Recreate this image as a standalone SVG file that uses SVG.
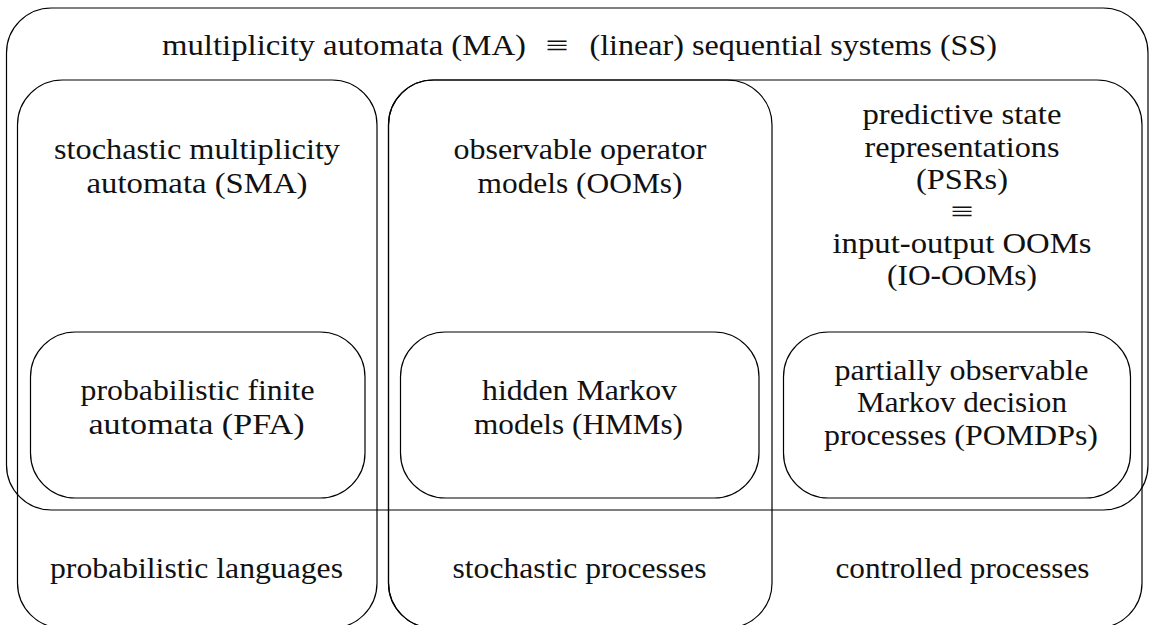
<svg xmlns="http://www.w3.org/2000/svg" width="1149" height="625" viewBox="0 0 1149 625" font-family="Liberation Serif, DejaVu Serif, serif">
  <style>
    .box { fill: none; stroke: #000; stroke-width: 1.2; }
    .lbl { font-family: 'Liberation Serif', 'DejaVu Serif', serif; font-size: 29px; fill: #111; text-anchor: middle; }
  </style>
  <rect width="1149" height="625" fill="#fff"/>

  <!-- column: probabilistic languages -->
  <g id="languages">
    <rect class="box" x="17.5" y="80" width="359.5" height="548" rx="45" ry="45"/>
    <text class="lbl" x="197" y="159" textLength="286" lengthAdjust="spacingAndGlyphs">stochastic multiplicity</text>
    <text class="lbl" x="197" y="192.5" textLength="221" lengthAdjust="spacingAndGlyphs">automata (SMA)</text>
    <text class="lbl" x="196.5" y="578" textLength="293" lengthAdjust="spacingAndGlyphs">probabilistic languages</text>
  </g>

  <!-- column: stochastic processes -->
  <g id="stochastic">
    <rect class="box" x="388.5" y="80" width="383.5" height="548" rx="45" ry="45"/>
    <text class="lbl" x="580" y="159" textLength="253" lengthAdjust="spacingAndGlyphs">observable operator</text>
    <text class="lbl" x="580" y="192.5" textLength="205" lengthAdjust="spacingAndGlyphs">models (OOMs)</text>
    <text class="lbl" x="579.5" y="578" textLength="254" lengthAdjust="spacingAndGlyphs">stochastic processes</text>
  </g>

  <!-- column: controlled processes (encloses stochastic processes) -->
  <g id="controlled">
    <rect class="box" x="388.5" y="80" width="753.5" height="548" rx="45" ry="45"/>
    <text class="lbl" x="962" y="124" textLength="199" lengthAdjust="spacingAndGlyphs">predictive state</text>
    <text class="lbl" x="962" y="156.5" textLength="195" lengthAdjust="spacingAndGlyphs">representations</text>
    <text class="lbl" x="962" y="188.5" textLength="92" lengthAdjust="spacingAndGlyphs">(PSRs)</text>
    <text class="lbl" x="962" y="220.5" textLength="23" lengthAdjust="spacingAndGlyphs">≡</text>
    <text class="lbl" x="962" y="252.5" textLength="259" lengthAdjust="spacingAndGlyphs">input-output OOMs</text>
    <text class="lbl" x="962" y="284.5" textLength="150" lengthAdjust="spacingAndGlyphs">(IO-OOMs)</text>
    <text class="lbl" x="962.5" y="578" textLength="254" lengthAdjust="spacingAndGlyphs">controlled processes</text>
  </g>

  <!-- multiplicity automata / sequential systems -->
  <g id="ma">
    <rect class="box" x="6.5" y="8" width="1141.5" height="502" rx="45" ry="45"/>
    <text class="lbl" x="162" y="55" style="text-anchor:start" textLength="364" lengthAdjust="spacingAndGlyphs">multiplicity automata (MA)</text>
    <text class="lbl" x="557" y="55" textLength="23" lengthAdjust="spacingAndGlyphs">≡</text>
    <text class="lbl" x="589.5" y="55" style="text-anchor:start" textLength="407.5" lengthAdjust="spacingAndGlyphs">(linear) sequential systems (SS)</text>
  </g>

  <g id="pfa">
    <rect class="box" x="30.5" y="332" width="334.5" height="166" rx="45" ry="45"/>
    <text class="lbl" x="197.5" y="400" textLength="234" lengthAdjust="spacingAndGlyphs">probabilistic finite</text>
    <text class="lbl" x="196.5" y="434" textLength="216" lengthAdjust="spacingAndGlyphs">automata (PFA)</text>
  </g>

  <g id="hmm">
    <rect class="box" x="400.5" y="332" width="358.5" height="166" rx="45" ry="45"/>
    <text class="lbl" x="579.5" y="400" textLength="195" lengthAdjust="spacingAndGlyphs">hidden Markov</text>
    <text class="lbl" x="578.5" y="434" textLength="209" lengthAdjust="spacingAndGlyphs">models (HMMs)</text>
  </g>

  <g id="pomdp">
    <rect class="box" x="783.5" y="332" width="347" height="166" rx="45" ry="45"/>
    <text class="lbl" x="961.5" y="379.5" textLength="254" lengthAdjust="spacingAndGlyphs">partially observable</text>
    <text class="lbl" x="962" y="412" textLength="210" lengthAdjust="spacingAndGlyphs">Markov decision</text>
    <text class="lbl" x="961" y="445" textLength="274" lengthAdjust="spacingAndGlyphs">processes (POMDPs)</text>
  </g>
</svg>
